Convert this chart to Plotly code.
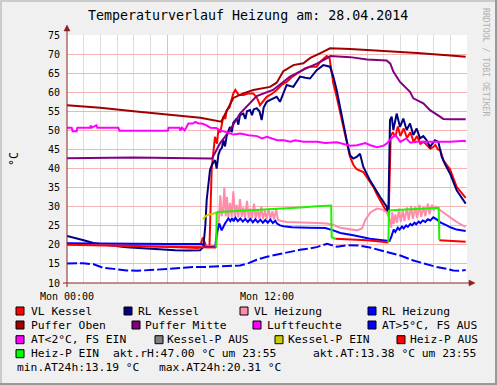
import plotly.graph_objects as go

# ---------------- data (time in hours since Mon 00:00, values in °C / %) ----------------
vl_kessel_t = [0, 1.0, 2.0, 3.0, 4.0, 5.0, 6.0, 7.0, 7.9, 8.05, 8.15, 8.25, 8.35, 8.55, 8.62, 8.68, 8.8, 8.88, 9.0,
               9.08, 9.2, 9.38, 9.5, 9.58, 9.75, 9.98, 10.1, 10.3, 10.6, 10.9, 11.18, 11.4, 11.58, 11.8, 11.98,
               12.3, 12.58, 12.9, 13.18, 13.5, 13.98, 14.3, 14.58, 14.98, 15.2, 15.58, 15.75, 15.85, 15.98,
               16.18, 16.4, 16.58, 16.8, 16.98, 17.18, 17.38, 17.78, 18.0, 18.38, 18.6, 18.8, 19.0, 19.18,
               19.3, 19.36, 19.42, 19.55, 19.7, 19.85, 20.0, 20.2, 20.4, 20.6, 20.8, 21.0, 21.2, 21.4, 21.6,
               21.8, 22.0, 22.1, 22.25, 22.4, 22.6, 22.98, 23.38, 23.7, 23.92]
vl_kessel_v = [20.3, 20.2, 20.0, 19.9, 19.8, 19.6, 19.5, 19.3, 19.2, 20.5, 21.9, 20.8, 19.5, 19.6, 28.0, 40.0, 45.0,
               48.3, 46.5, 50.1, 49.5, 53.6, 53.0, 55.3, 56.0, 59.7, 60.6, 59.3, 59.3, 59.7, 59.7, 58.5, 56.6,
               58.0, 58.8, 59.6, 60.6, 62.0, 62.7, 64.0, 65.4, 66.3, 66.7, 66.7, 68.0, 69.5, 69.0, 66.5, 62.3,
               58.8, 54.5, 50.1, 46.0, 43.1, 41.0, 39.8, 39.1, 37.6, 35.2, 33.2, 31.5, 30.0, 28.6, 27.8, 38.0,
               48.5, 49.5, 48.3, 51.0, 48.5, 50.5, 48.0, 49.5, 47.0, 48.5, 46.5, 47.0, 46.0, 45.2, 45.7, 46.2,
               45.0, 44.8, 42.0, 39.8, 35.2, 33.5, 32.3]

rl_kessel_t = [0, 0.5, 1.0, 1.58, 2.5, 3.58, 4.5, 5.58, 6.5, 7.18, 7.98, 8.18, 8.3, 8.38, 8.5, 8.58, 8.7, 8.88,
               8.98, 9.08, 9.18, 9.3, 9.38, 9.48, 9.58, 9.78, 9.88, 9.98, 10.18, 10.28, 10.38, 10.58, 10.7, 10.8,
               10.98, 11.1, 11.2, 11.38, 11.55, 11.68, 11.8, 11.98, 12.2, 12.58, 12.78, 12.95, 13.18, 13.58,
               13.98, 14.3, 14.58, 14.98, 15.38, 15.78, 15.98, 16.18, 16.38, 16.58, 16.78, 16.98, 17.18, 17.4,
               17.58, 17.78, 18.18, 18.78, 19.18, 19.28, 19.33, 19.38, 19.48, 19.58, 19.78, 19.98, 20.18, 20.38,
               20.58, 20.78, 20.98, 21.18, 21.38, 21.58, 21.78, 22.08, 22.28, 22.48, 22.7, 22.98, 23.38, 23.78,
               23.92]
rl_kessel_v = [22.3, 21.8, 21.2, 20.5, 19.9, 19.4, 19.1, 18.8, 18.6, 18.5, 18.6, 19.4, 25.0, 31.7, 37.0, 39.6, 41.0,
               42.2, 40.0, 43.5, 44.8, 45.5, 47.4, 45.8, 48.5, 50.9, 49.5, 52.0, 53.1, 51.5, 54.0, 54.4, 53.0,
               55.0, 55.3, 54.0, 55.5, 55.8, 55.0, 52.7, 56.0, 57.5, 58.0, 58.8, 57.5, 59.5, 61.9, 61.4, 64.1,
               63.8, 63.6, 65.8, 67.1, 66.7, 64.1, 60.6, 56.0, 51.8, 47.4, 43.5, 42.6, 43.1, 43.9, 40.4, 36.9,
               32.6, 30.0, 27.8, 40.0, 52.7, 53.6, 50.1, 54.4, 50.9, 53.1, 50.1, 51.8, 48.8, 50.5, 47.9, 48.5,
               47.4, 45.7, 47.4, 47.0, 43.1, 41.0, 38.7, 34.3, 31.7, 30.8]

vl_heizung_t = [0, 2.0, 4.0, 6.0, 8.2, 8.95, 9.05, 9.12, 9.2, 9.28, 9.36, 9.44, 9.52, 9.6, 9.68, 9.78, 9.88, 9.98,
                10.08, 10.18, 10.28, 10.38, 10.48, 10.58, 10.68, 10.8, 10.9, 11.0, 11.1, 11.22, 11.32, 11.44,
                11.54, 11.66, 11.76, 11.88, 11.98, 12.1, 12.2, 12.32, 12.42, 12.55, 12.65, 12.8, 13.2, 14.0,
                15.0, 15.6, 16.0, 16.4, 17.0, 17.4, 17.7, 17.9, 18.2, 18.6, 18.9, 19.2, 19.38, 19.45, 19.52,
                19.6, 19.7, 19.8, 19.92, 20.02, 20.15, 20.25, 20.4, 20.5, 20.65, 20.75, 20.9, 21.0, 21.15, 21.25,
                21.4, 21.5, 21.65, 21.75, 21.9, 22.0, 22.1, 22.38, 22.8, 23.18, 23.6, 23.92]
vl_heizung_v = [20.0, 19.9, 19.8, 19.7, 19.6, 19.6, 24.0, 27.0, 33.0, 27.5, 29.0, 35.0, 27.5, 32.5, 27.2, 31.0, 27.3,
                34.0, 27.5, 30.5, 27.2, 32.0, 27.3, 29.8, 27.0, 31.5, 27.0, 29.5, 27.0, 30.8, 26.9, 29.2, 26.9,
                30.0, 26.8, 29.0, 26.8, 29.5, 26.7, 28.8, 26.6, 29.3, 26.6, 26.3, 26.0, 25.8, 25.7, 25.6, 25.2,
                24.5, 24.0, 23.8, 24.3, 26.5, 28.5, 29.5, 29.3, 28.5, 26.4, 24.5, 28.5, 25.5, 28.0, 25.8, 29.5,
                26.0, 29.0, 26.2, 29.8, 26.5, 30.2, 26.8, 30.0, 27.0, 30.5, 27.3, 30.0, 27.5, 30.8, 28.0, 30.5,
                29.0, 30.0, 29.1, 27.6, 26.6, 25.4, 24.7]

rl_heizung_t = [0, 2.0, 4.0, 6.0, 8.1, 8.3, 8.9, 8.98, 9.14, 9.28, 9.48, 9.68, 9.8, 9.9, 10.0, 10.1, 10.25, 10.4,
                10.55, 10.7, 10.85, 11.0, 11.15, 11.3, 11.45, 11.6, 11.75, 11.9, 12.05, 12.2, 12.35, 12.5, 12.6,
                12.78, 13.0, 13.5, 14.5, 15.5, 15.98, 16.4, 17.18, 17.6, 18.18, 18.8, 19.2, 19.35, 19.45, 19.6,
                19.7, 19.85, 19.95, 20.1, 20.2, 20.35, 20.45, 20.6, 20.7, 20.85, 20.95, 21.1, 21.2, 21.35, 21.5,
                21.65, 21.8, 21.98, 22.2, 22.4, 22.78, 23.0, 23.38, 23.92]
rl_heizung_v = [20.4, 20.3, 20.3, 20.2, 20.2, 19.5, 19.5, 22.9, 25.6, 23.8, 25.6, 26.9, 26.2, 27.0, 26.2, 27.1,
                26.2, 26.9, 26.1, 26.8, 26.0, 26.8, 25.9, 26.7, 25.9, 26.6, 25.8, 26.5, 25.8, 26.6, 25.7, 26.3,
                25.6, 25.1, 24.9, 24.6, 24.5, 24.4, 23.8, 23.1, 22.5, 22.1, 21.6, 21.3, 21.2, 21.0, 22.0, 24.0,
                23.4, 24.5, 24.0, 24.8, 24.3, 25.1, 24.7, 25.5, 25.1, 25.8, 25.4, 26.1, 25.7, 26.4, 26.0, 26.7,
                26.4, 27.2, 26.6, 25.9, 25.1, 24.6, 24.0, 23.6]

puffer_oben_t = [0, 2.0, 4.0, 6.0, 8.0, 9.25, 9.58, 9.98, 10.58, 11.18, 12.18, 12.58, 12.98, 13.58, 14.18, 14.6,
                 15.18, 15.78, 17.0, 18.96, 21.0, 23.0, 23.92]
puffer_oben_v = [56.6, 55.9, 55.0, 54.2, 53.3, 52.3, 55.3, 58.5, 59.7, 60.6, 61.4, 62.5, 65.5, 67.1, 67.6, 69.0,
                 70.2, 71.5, 71.3, 70.9, 70.3, 69.6, 69.3]

puffer_mitte_t = [0, 4.0, 8.6, 8.7, 9.18, 9.78, 10.38, 11.38, 12.36, 13.38, 14.38, 15.0, 15.58, 15.8, 17.0, 18.0,
                  19.18, 19.4, 19.58, 19.98, 20.58, 20.78, 21.38, 21.78, 22.38, 22.58, 23.0, 23.92]
puffer_mitte_v = [42.7, 42.9, 42.6, 42.6, 46.6, 50.1, 54.4, 59.0, 60.6, 64.1, 66.3, 67.5, 68.9, 69.5, 69.2, 68.6,
                  68.3, 67.5, 65.4, 62.7, 60.1, 58.4, 57.1, 55.3, 53.6, 53.0, 52.9, 52.9]

luftfeuchte_t = [0, 0.28, 0.34, 0.58, 0.62, 1.40, 1.42, 1.48, 1.76, 1.82, 3.08, 3.15, 6.05, 6.10, 6.75, 6.80, 6.90,
                 7.05, 7.15, 7.28, 7.55, 7.70, 7.90, 8.10, 8.35, 8.60, 8.95, 9.20, 9.50, 9.98, 10.4, 10.9, 11.4,
                 11.7, 12.0, 12.6, 13.0, 13.4, 13.7, 14.2, 15.0, 15.5, 16.2, 16.6, 17.0, 17.4, 17.9, 18.2, 18.6,
                 19.0, 19.2, 19.45, 19.7, 20.0, 20.35, 20.6, 21.0, 22.0, 23.0, 23.85, 23.92]
luftfeuchte_v = [50.7, 50.7, 49.8, 49.8, 50.7, 50.7, 51.3, 50.7, 51.3, 50.7, 50.7, 49.9, 49.9, 50.7, 50.7, 50.0,
                 50.7, 50.0, 50.7, 51.8, 51.8, 52.2, 51.8, 51.8, 51.4, 50.7, 50.6, 50.0, 49.6, 48.9, 49.2, 48.7,
                 48.5, 47.9, 48.3, 47.4, 47.4, 47.0, 47.4, 47.0, 47.0, 46.7, 46.9, 46.5, 46.0, 46.1, 46.7, 46.1,
                 45.6, 46.0, 46.6, 47.9, 48.8, 47.0, 47.9, 46.8, 47.0, 47.0, 47.0, 47.3, 47.0]

aussen_t = [0, 0.96, 1.6, 2.16, 2.8, 3.58, 4.2, 4.78, 5.5, 6.18, 7.0, 7.58, 8.2, 9.38, 10.38, 10.9, 11.38, 12.0,
            12.6, 13.2, 13.98, 14.5, 14.98, 15.6, 16.2, 16.78, 17.5, 18.18, 18.78, 19.3, 20.0, 20.78, 21.5, 22.18,
            22.8, 23.18, 23.5, 23.92]
aussen_v = [15.1, 15.2, 14.9, 14.0, 13.7, 13.3, 13.2, 13.3, 13.5, 13.7, 14.0, 14.2, 14.2, 14.4, 14.6, 15.2, 16.1,
            16.9, 17.5, 18.0, 18.7, 19.0, 19.4, 20.3, 19.5, 19.9, 19.8, 19.3, 18.6, 18.1, 17.2, 15.9, 15.0, 14.2,
            13.7, 13.3, 13.2, 13.4]

kessel_p_ein_t = [8.15, 8.4, 8.7, 8.98, 9.1]
kessel_p_ein_v = [26.8, 27.8, 28.1, 28.4, 28.6]

heiz_p_aus_t = [0, 2.0, 4.0, 6.0, 7.5, 8.0, 8.9, 8.95, None, 16.1, 17.0, 18.0, 18.9, 19.22, 19.28, None,
                22.34, 23.0, 23.92]
heiz_p_aus_v = [20.0, 19.9, 19.7, 19.5, 19.4, 19.4, 19.3, 19.3, None, 21.6, 21.4, 21.2, 20.8, 20.5, 20.6, None,
                21.2, 21.0, 20.8]

heiz_p_ein_t = [8.95, 8.98, 9.1, 10.0, 11.0, 12.0, 13.0, 14.0, 15.0, 15.5, 15.85, 15.88, 16.1, None,
                19.28, 19.32, 19.5, 20.0, 21.0, 22.0, 22.3, 22.34]
heiz_p_ein_v = [19.4, 28.4, 28.6, 28.8, 29.0, 29.2, 29.6, 29.8, 30.1, 30.3, 30.3, 22.0, 21.6, None,
                20.6, 29.0, 29.1, 29.2, 29.3, 29.6, 29.7, 21.3]

legend_labels = ["VL Kessel", "RL Kessel", "VL Heizung", "RL Heizung",
                 "Puffer Oben", "Puffer Mitte", "Luftfeuchte", "AT>5°C, FS AUS",
                 "AT<2°C, FS EIN", "Kessel-P AUS", "Kessel-P EIN", "Heiz-P AUS", "Heiz-P EIN"]
legend_colors = ["#FF0000", "#000080", "#FF8CAA", "#0000FF",
                 "#A00000", "#800080", "#FF00FF", "#0000FF",
                 "#FF00FF", "#808080", "#CCCC00", "#FF0000", "#00FF00"]
info_texts = ["akt.rH:47.00 °C um 23:55", "akt.AT:13.38 °C um 23:55",
              "min.AT24h:13.19 °C", "max.AT24h:20.31 °C"]
title_text = "Temperaturverlauf Heizung am: 28.04.2014"
x_tick_vals = [0, 6, 12, 18, 24]
x_tick_text = ["Mon 00:00", "", "Mon 12:00", "", ""]

# ---------------- layout geometry (pixels) ----------------
W, H = 497, 385
L, R, T, B = 67, 467, 35, 283
def px(x):
    return (x - L) / (R - L)
def py(y):
    return (B - y) / (B - T)

MONO = "DejaVu Sans Mono"

fig = go.Figure()

def line(t, v, color, width=2, dash=None):
    fig.add_trace(go.Scatter(x=t, y=v, mode="lines", line=dict(color=color, width=width, dash=dash),
                             connectgaps=False, showlegend=False, hoverinfo="skip"))

line(vl_kessel_t, vl_kessel_v, "#FF0000")
line(rl_kessel_t, rl_kessel_v, "#000080")
line(vl_heizung_t, vl_heizung_v, "#FF8CAA")
line(rl_heizung_t, rl_heizung_v, "#0000FF")
line(puffer_oben_t, puffer_oben_v, "#A00000")
line(puffer_mitte_t, puffer_mitte_v, "#800080")
line(luftfeuchte_t, luftfeuchte_v, "#FF00FF")
line(aussen_t, aussen_v, "#0000FF", dash="10px,3px")
line(kessel_p_ein_t, kessel_p_ein_v, "#CCCC00")
line(heiz_p_aus_t, heiz_p_aus_v, "#FF0000")
line(heiz_p_ein_t, heiz_p_ein_v, "#22F000")

fig.update_layout(
    width=W, height=H, autosize=False,
    margin=dict(l=L, r=W - R, t=T, b=H - B, pad=0),
    paper_bgcolor="#F0F0F0", plot_bgcolor="#FFFFFF",
    showlegend=False,
    xaxis=dict(range=[0, 24], tickmode="array", tickvals=x_tick_vals, ticktext=x_tick_text,
               showgrid=True, gridcolor="#F5B5B5", gridwidth=1, zeroline=False, showline=False,
               ticks="", ticklabelstandoff=6,
               tickfont=dict(family=MONO, size=10, color="#000000"),
               minor=dict(tickmode="array", tickvals=list(range(25)), showgrid=True,
                          gridcolor="#DDDDDD", gridwidth=1)),
    yaxis=dict(range=[10, 75], tickmode="linear", tick0=10, dtick=5,
               showgrid=True, gridcolor="#F5B5B5", gridwidth=1, zeroline=False, showline=False,
               ticks="", ticklabelstandoff=6,
               tickfont=dict(family=MONO, size=10, color="#000000")),
)

shapes = []
axis_col = "#8C2020"
# axes
shapes.append(dict(type="line", xref="paper", yref="paper", x0=px(63), x1=px(470), y0=py(283), y1=py(283),
                   line=dict(color=axis_col, width=1)))
shapes.append(dict(type="line", xref="paper", yref="paper", x0=px(67), x1=px(67), y0=py(287), y1=py(30),
                   line=dict(color=axis_col, width=1)))
# arrow heads
shapes.append(dict(type="path", xref="paper", yref="paper",
                   path=f"M {px(469)} {py(280)} L {px(475)} {py(283)} L {px(469)} {py(286)} Z",
                   fillcolor=axis_col, line=dict(color=axis_col, width=0.5)))
shapes.append(dict(type="path", xref="paper", yref="paper",
                   path=f"M {px(64)} {py(31)} L {px(67)} {py(25)} L {px(70)} {py(31)} Z",
                   fillcolor=axis_col, line=dict(color=axis_col, width=0.5)))
# image border
shapes.append(dict(type="rect", xref="paper", yref="paper", x0=px(0), x1=px(W), y0=py(0), y1=py(2),
                   fillcolor="#CBCBCB", line=dict(width=0)))
shapes.append(dict(type="rect", xref="paper", yref="paper", x0=px(0), x1=px(2), y0=py(0), y1=py(H),
                   fillcolor="#CBCBCB", line=dict(width=0)))
shapes.append(dict(type="rect", xref="paper", yref="paper", x0=px(0), x1=px(W), y0=py(H - 2), y1=py(H),
                   fillcolor="#999999", line=dict(width=0)))
shapes.append(dict(type="rect", xref="paper", yref="paper", x0=px(W - 2), x1=px(W), y0=py(0), y1=py(H),
                   fillcolor="#999999", line=dict(width=0)))

annotations = []
# title
annotations.append(dict(text=title_text, xref="paper", yref="paper", x=px(248), y=py(16),
                        xanchor="center", yanchor="middle", showarrow=False,
                        font=dict(family=MONO, size=13.3, color="#000000")))
# y axis title
annotations.append(dict(text="°C", xref="paper", yref="paper", x=px(14), y=py(159), textangle=-90,
                        xanchor="center", yanchor="middle", showarrow=False,
                        font=dict(family=MONO, size=11.5, color="#000000")))
# watermark
annotations.append(dict(text="RRDTOOL / TOBI OETIKER", xref="paper", yref="paper", x=px(486), y=py(62),
                        textangle=90, xanchor="center", yanchor="middle", showarrow=False,
                        font=dict(family=MONO, size=8.2, color="#B0B0B0")))

# legend layout (pixel positions)
sq_pos = [(16, 311), (124, 311), (240, 311), (368, 311),
          (16, 325), (132, 325), (253, 325), (368, 325),
          (16, 339.7), (155, 339.7), (275, 339.7), (397, 339.7),
          (16, 353.7)]
txt_x = [31, 138.3, 254, 381.7,
         31, 145, 267.3, 381.7,
         31, 166.7, 288.3, 410,
         31]
LEG_FS = 11.3
for i, lab in enumerate(legend_labels):
    sx, sy = sq_pos[i]
    shapes.append(dict(type="rect", xref="paper", yref="paper", x0=px(sx), x1=px(sx + 8),
                       y0=py(sy - 4), y1=py(sy + 4), fillcolor=legend_colors[i],
                       line=dict(color="#000000", width=1)))
    annotations.append(dict(text=lab, xref="paper", yref="paper", x=px(txt_x[i] - 2), y=py(sy),
                            xanchor="left", yanchor="middle", showarrow=False,
                            font=dict(family=MONO, size=LEG_FS, color="#000000")))
info_pos = [(113.3, 353.7), (312.7, 353.7), (16.7, 367.7), (159, 367.7)]
for (ix, iy), txt in zip(info_pos, info_texts):
    annotations.append(dict(text=txt, xref="paper", yref="paper", x=px(ix - 2), y=py(iy),
                            xanchor="left", yanchor="middle", showarrow=False,
                            font=dict(family=MONO, size=LEG_FS, color="#000000")))

fig.update_layout(shapes=shapes, annotations=annotations)
fig.write_html("out.html", config={"displayModeBar": False},
               post_script="document.body.style.margin='0px';document.body.style.padding='0px';")
